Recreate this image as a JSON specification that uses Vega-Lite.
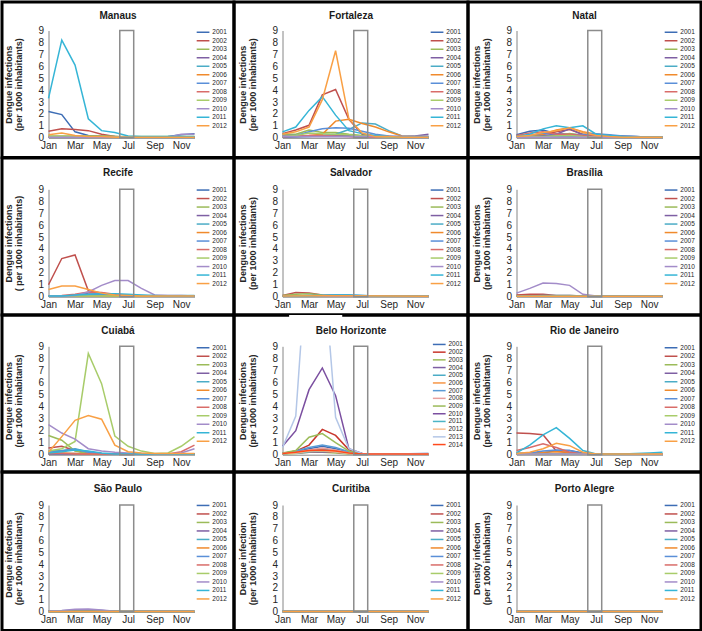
{
"$schema":"https://vega.github.io/schema/vega-lite/v6.json",
"padding":0,
"bounds":"flush",
"spacing":0,
"columns":3,
"datasets":{"d":[
{"c":"MA","s":2001,"m":1,"v":2.2},{"c":"MA","s":2001,"m":2,"v":1.95},{"c":"MA","s":2001,"m":3,"v":0.5},{"c":"MA","s":2001,"m":4,"v":0.2},{"c":"MA","s":2001,"m":5,"v":0.15},{"c":"MA","s":2001,"m":6,"v":0.1},{"c":"MA","s":2001,"m":7,"v":0.05},{"c":"MA","s":2001,"m":8,"v":0.05},{"c":"MA","s":2001,"m":9,"v":0.05},{"c":"MA","s":2001,"m":10,"v":0.1},{"c":"MA","s":2001,"m":11,"v":0.25},{"c":"MA","s":2001,"m":12,"v":0.35},
{"c":"MA","s":2002,"m":1,"v":0.55},{"c":"MA","s":2002,"m":2,"v":0.75},{"c":"MA","s":2002,"m":3,"v":0.7},{"c":"MA","s":2002,"m":4,"v":0.6},{"c":"MA","s":2002,"m":5,"v":0.3},{"c":"MA","s":2002,"m":6,"v":0.1},{"c":"MA","s":2002,"m":7,"v":0.05},{"c":"MA","s":2002,"m":12,"v":0.05},
{"c":"MA","s":2003,"m":1,"v":0.15},{"c":"MA","s":2003,"m":5,"v":0.15},{"c":"MA","s":2003,"m":6,"v":0.1},{"c":"MA","s":2003,"m":7,"v":0.05},{"c":"MA","s":2003,"m":12,"v":0.05},
{"c":"MA","s":2004,"m":1,"v":0.05},{"c":"MA","s":2004,"m":12,"v":0.05},
{"c":"MA","s":2005,"m":1,"v":0.05},{"c":"MA","s":2005,"m":12,"v":0.05},
{"c":"MA","s":2006,"m":1,"v":0.05},{"c":"MA","s":2006,"m":12,"v":0.05},
{"c":"MA","s":2007,"m":1,"v":0.05},{"c":"MA","s":2007,"m":12,"v":0.05},
{"c":"MA","s":2008,"m":1,"v":0.05},{"c":"MA","s":2008,"m":12,"v":0.05},
{"c":"MA","s":2009,"m":1,"v":0.1},{"c":"MA","s":2009,"m":12,"v":0.1},
{"c":"MA","s":2010,"m":1,"v":0.05},{"c":"MA","s":2010,"m":10,"v":0.05},{"c":"MA","s":2010,"m":11,"v":0.3},{"c":"MA","s":2010,"m":12,"v":0.3},
{"c":"MA","s":2011,"m":1,"v":3.3},{"c":"MA","s":2011,"m":2,"v":8.2},{"c":"MA","s":2011,"m":3,"v":6.1},{"c":"MA","s":2011,"m":4,"v":1.6},{"c":"MA","s":2011,"m":5,"v":0.6},{"c":"MA","s":2011,"m":6,"v":0.45},{"c":"MA","s":2011,"m":7,"v":0.15},{"c":"MA","s":2011,"m":8,"v":0.1},{"c":"MA","s":2011,"m":9,"v":0.1},{"c":"MA","s":2011,"m":10,"v":0.1},{"c":"MA","s":2011,"m":11,"v":0.1},{"c":"MA","s":2011,"m":12,"v":0.1},
{"c":"MA","s":2012,"m":1,"v":0.25},{"c":"MA","s":2012,"m":2,"v":0.4},{"c":"MA","s":2012,"m":3,"v":0.2},{"c":"MA","s":2012,"m":4,"v":0.1},{"c":"MA","s":2012,"m":5,"v":0.1},{"c":"MA","s":2012,"m":6,"v":0.05},{"c":"MA","s":2012,"m":12,"v":0.05},

{"c":"FO","s":2001,"m":1,"v":0.1},{"c":"FO","s":2001,"m":2,"v":0.1},{"c":"FO","s":2001,"m":3,"v":0.15},{"c":"FO","s":2001,"m":4,"v":0.2},{"c":"FO","s":2001,"m":5,"v":0.2},{"c":"FO","s":2001,"m":6,"v":0.2},{"c":"FO","s":2001,"m":7,"v":0.15},{"c":"FO","s":2001,"m":8,"v":0.1},{"c":"FO","s":2001,"m":9,"v":0.1},{"c":"FO","s":2001,"m":10,"v":0.05},{"c":"FO","s":2001,"m":12,"v":0.05},
{"c":"FO","s":2002,"m":1,"v":0.35},{"c":"FO","s":2002,"m":2,"v":0.65},{"c":"FO","s":2002,"m":3,"v":1.05},{"c":"FO","s":2002,"m":4,"v":3.6},{"c":"FO","s":2002,"m":5,"v":4.05},{"c":"FO","s":2002,"m":6,"v":1.55},{"c":"FO","s":2002,"m":7,"v":0.3},{"c":"FO","s":2002,"m":8,"v":0.15},{"c":"FO","s":2002,"m":9,"v":0.1},{"c":"FO","s":2002,"m":10,"v":0.05},{"c":"FO","s":2002,"m":11,"v":0.05},{"c":"FO","s":2002,"m":12,"v":0.05},
{"c":"FO","s":2003,"m":1,"v":0.3},{"c":"FO","s":2003,"m":2,"v":0.3},{"c":"FO","s":2003,"m":3,"v":0.65},{"c":"FO","s":2003,"m":4,"v":0.45},{"c":"FO","s":2003,"m":5,"v":0.45},{"c":"FO","s":2003,"m":6,"v":0.3},{"c":"FO","s":2003,"m":7,"v":0.2},{"c":"FO","s":2003,"m":8,"v":0.1},{"c":"FO","s":2003,"m":9,"v":0.05},{"c":"FO","s":2003,"m":12,"v":0.05},
{"c":"FO","s":2004,"m":1,"v":0.05},{"c":"FO","s":2004,"m":3,"v":0.1},{"c":"FO","s":2004,"m":6,"v":0.1},{"c":"FO","s":2004,"m":7,"v":0.05},{"c":"FO","s":2004,"m":10,"v":0.05},{"c":"FO","s":2004,"m":11,"v":0.15},{"c":"FO","s":2004,"m":12,"v":0.3},
{"c":"FO","s":2005,"m":1,"v":0.1},{"c":"FO","s":2005,"m":2,"v":0.1},{"c":"FO","s":2005,"m":3,"v":0.1},{"c":"FO","s":2005,"m":4,"v":0.2},{"c":"FO","s":2005,"m":5,"v":0.3},{"c":"FO","s":2005,"m":6,"v":0.7},{"c":"FO","s":2005,"m":7,"v":1.25},{"c":"FO","s":2005,"m":8,"v":1.15},{"c":"FO","s":2005,"m":9,"v":0.6},{"c":"FO","s":2005,"m":10,"v":0.15},{"c":"FO","s":2005,"m":11,"v":0.1},{"c":"FO","s":2005,"m":12,"v":0.1},
{"c":"FO","s":2006,"m":1,"v":0.1},{"c":"FO","s":2006,"m":2,"v":0.15},{"c":"FO","s":2006,"m":3,"v":0.2},{"c":"FO","s":2006,"m":4,"v":0.3},{"c":"FO","s":2006,"m":5,"v":1.4},{"c":"FO","s":2006,"m":6,"v":1.55},{"c":"FO","s":2006,"m":7,"v":1.2},{"c":"FO","s":2006,"m":8,"v":0.9},{"c":"FO","s":2006,"m":9,"v":0.5},{"c":"FO","s":2006,"m":10,"v":0.15},{"c":"FO","s":2006,"m":11,"v":0.1},{"c":"FO","s":2006,"m":12,"v":0.1},
{"c":"FO","s":2007,"m":1,"v":0.2},{"c":"FO","s":2007,"m":2,"v":0.2},{"c":"FO","s":2007,"m":3,"v":0.5},{"c":"FO","s":2007,"m":4,"v":0.75},{"c":"FO","s":2007,"m":5,"v":0.85},{"c":"FO","s":2007,"m":6,"v":0.8},{"c":"FO","s":2007,"m":7,"v":0.55},{"c":"FO","s":2007,"m":8,"v":0.3},{"c":"FO","s":2007,"m":9,"v":0.15},{"c":"FO","s":2007,"m":10,"v":0.1},{"c":"FO","s":2007,"m":12,"v":0.1},
{"c":"FO","s":2008,"m":1,"v":0.1},{"c":"FO","s":2008,"m":2,"v":0.15},{"c":"FO","s":2008,"m":3,"v":0.2},{"c":"FO","s":2008,"m":4,"v":0.2},{"c":"FO","s":2008,"m":5,"v":0.15},{"c":"FO","s":2008,"m":6,"v":0.1},{"c":"FO","s":2008,"m":7,"v":0.05},{"c":"FO","s":2008,"m":12,"v":0.05},
{"c":"FO","s":2009,"m":1,"v":0.1},{"c":"FO","s":2009,"m":2,"v":0.2},{"c":"FO","s":2009,"m":3,"v":0.4},{"c":"FO","s":2009,"m":4,"v":0.35},{"c":"FO","s":2009,"m":5,"v":0.3},{"c":"FO","s":2009,"m":6,"v":0.25},{"c":"FO","s":2009,"m":7,"v":0.15},{"c":"FO","s":2009,"m":8,"v":0.1},{"c":"FO","s":2009,"m":9,"v":0.05},{"c":"FO","s":2009,"m":12,"v":0.05},
{"c":"FO","s":2010,"m":1,"v":0.1},{"c":"FO","s":2010,"m":12,"v":0.1},
{"c":"FO","s":2011,"m":1,"v":0.5},{"c":"FO","s":2011,"m":2,"v":0.9},{"c":"FO","s":2011,"m":3,"v":2.3},{"c":"FO","s":2011,"m":4,"v":3.45},{"c":"FO","s":2011,"m":5,"v":1.9},{"c":"FO","s":2011,"m":6,"v":0.6},{"c":"FO","s":2011,"m":7,"v":0.35},{"c":"FO","s":2011,"m":8,"v":0.2},{"c":"FO","s":2011,"m":9,"v":0.1},{"c":"FO","s":2011,"m":10,"v":0.05},{"c":"FO","s":2011,"m":12,"v":0.05},
{"c":"FO","s":2012,"m":1,"v":0.3},{"c":"FO","s":2012,"m":2,"v":0.5},{"c":"FO","s":2012,"m":3,"v":0.9},{"c":"FO","s":2012,"m":4,"v":3.2},{"c":"FO","s":2012,"m":5,"v":7.3},{"c":"FO","s":2012,"m":6,"v":1.6},{"c":"FO","s":2012,"m":7,"v":0.4},{"c":"FO","s":2012,"m":8,"v":0.1},{"c":"FO","s":2012,"m":9,"v":0.1},{"c":"FO","s":2012,"m":10,"v":0.05},{"c":"FO","s":2012,"m":11,"v":0.05},{"c":"FO","s":2012,"m":12,"v":0.05},

{"c":"NA","s":2001,"m":1,"v":0.25},{"c":"NA","s":2001,"m":2,"v":0.55},{"c":"NA","s":2001,"m":3,"v":0.65},{"c":"NA","s":2001,"m":4,"v":0.35},{"c":"NA","s":2001,"m":5,"v":0.3},{"c":"NA","s":2001,"m":6,"v":0.25},{"c":"NA","s":2001,"m":7,"v":0.3},{"c":"NA","s":2001,"m":8,"v":0.2},{"c":"NA","s":2001,"m":9,"v":0.15},{"c":"NA","s":2001,"m":10,"v":0.1},{"c":"NA","s":2001,"m":11,"v":0.05},{"c":"NA","s":2001,"m":12,"v":0.05},
{"c":"NA","s":2002,"m":1,"v":0.1},{"c":"NA","s":2002,"m":2,"v":0.2},{"c":"NA","s":2002,"m":3,"v":0.3},{"c":"NA","s":2002,"m":4,"v":0.5},{"c":"NA","s":2002,"m":5,"v":0.7},{"c":"NA","s":2002,"m":6,"v":0.3},{"c":"NA","s":2002,"m":7,"v":0.1},{"c":"NA","s":2002,"m":8,"v":0.05},{"c":"NA","s":2002,"m":12,"v":0.05},
{"c":"NA","s":2003,"m":1,"v":0.1},{"c":"NA","s":2003,"m":2,"v":0.1},{"c":"NA","s":2003,"m":3,"v":0.15},{"c":"NA","s":2003,"m":4,"v":0.2},{"c":"NA","s":2003,"m":5,"v":0.35},{"c":"NA","s":2003,"m":6,"v":0.2},{"c":"NA","s":2003,"m":7,"v":0.1},{"c":"NA","s":2003,"m":8,"v":0.05},{"c":"NA","s":2003,"m":12,"v":0.05},
{"c":"NA","s":2004,"m":1,"v":0.1},{"c":"NA","s":2004,"m":2,"v":0.15},{"c":"NA","s":2004,"m":3,"v":0.2},{"c":"NA","s":2004,"m":4,"v":0.3},{"c":"NA","s":2004,"m":5,"v":0.75},{"c":"NA","s":2004,"m":6,"v":0.25},{"c":"NA","s":2004,"m":7,"v":0.1},{"c":"NA","s":2004,"m":8,"v":0.05},{"c":"NA","s":2004,"m":12,"v":0.05},
{"c":"NA","s":2005,"m":1,"v":0.1},{"c":"NA","s":2005,"m":12,"v":0.05},
{"c":"NA","s":2006,"m":1,"v":0.15},{"c":"NA","s":2006,"m":2,"v":0.2},{"c":"NA","s":2006,"m":3,"v":0.3},{"c":"NA","s":2006,"m":4,"v":0.65},{"c":"NA","s":2006,"m":5,"v":0.85},{"c":"NA","s":2006,"m":6,"v":0.5},{"c":"NA","s":2006,"m":7,"v":0.3},{"c":"NA","s":2006,"m":8,"v":0.2},{"c":"NA","s":2006,"m":9,"v":0.1},{"c":"NA","s":2006,"m":10,"v":0.05},{"c":"NA","s":2006,"m":12,"v":0.05},
{"c":"NA","s":2007,"m":1,"v":0.1},{"c":"NA","s":2007,"m":2,"v":0.2},{"c":"NA","s":2007,"m":3,"v":0.4},{"c":"NA","s":2007,"m":4,"v":0.3},{"c":"NA","s":2007,"m":5,"v":0.2},{"c":"NA","s":2007,"m":6,"v":0.3},{"c":"NA","s":2007,"m":7,"v":0.35},{"c":"NA","s":2007,"m":8,"v":0.25},{"c":"NA","s":2007,"m":9,"v":0.15},{"c":"NA","s":2007,"m":10,"v":0.1},{"c":"NA","s":2007,"m":11,"v":0.05},{"c":"NA","s":2007,"m":12,"v":0.05},
{"c":"NA","s":2008,"m":1,"v":0.2},{"c":"NA","s":2008,"m":2,"v":0.4},{"c":"NA","s":2008,"m":3,"v":0.5},{"c":"NA","s":2008,"m":4,"v":0.3},{"c":"NA","s":2008,"m":5,"v":0.3},{"c":"NA","s":2008,"m":6,"v":0.2},{"c":"NA","s":2008,"m":7,"v":0.1},{"c":"NA","s":2008,"m":8,"v":0.05},{"c":"NA","s":2008,"m":12,"v":0.05},
{"c":"NA","s":2009,"m":1,"v":0.05},{"c":"NA","s":2009,"m":2,"v":0.1},{"c":"NA","s":2009,"m":3,"v":0.1},{"c":"NA","s":2009,"m":4,"v":0.15},{"c":"NA","s":2009,"m":5,"v":0.2},{"c":"NA","s":2009,"m":6,"v":0.1},{"c":"NA","s":2009,"m":7,"v":0.05},{"c":"NA","s":2009,"m":12,"v":0.05},
{"c":"NA","s":2010,"m":1,"v":0.05},{"c":"NA","s":2010,"m":12,"v":0.05},
{"c":"NA","s":2011,"m":1,"v":0.1},{"c":"NA","s":2011,"m":2,"v":0.3},{"c":"NA","s":2011,"m":3,"v":0.75},{"c":"NA","s":2011,"m":4,"v":1.0},{"c":"NA","s":2011,"m":5,"v":0.85},{"c":"NA","s":2011,"m":6,"v":1.0},{"c":"NA","s":2011,"m":7,"v":0.3},{"c":"NA","s":2011,"m":8,"v":0.2},{"c":"NA","s":2011,"m":9,"v":0.1},{"c":"NA","s":2011,"m":10,"v":0.05},{"c":"NA","s":2011,"m":12,"v":0.05},
{"c":"NA","s":2012,"m":1,"v":0.1},{"c":"NA","s":2012,"m":2,"v":0.2},{"c":"NA","s":2012,"m":3,"v":0.45},{"c":"NA","s":2012,"m":4,"v":0.6},{"c":"NA","s":2012,"m":5,"v":0.85},{"c":"NA","s":2012,"m":6,"v":0.45},{"c":"NA","s":2012,"m":7,"v":0.2},{"c":"NA","s":2012,"m":8,"v":0.1},{"c":"NA","s":2012,"m":9,"v":0.05},{"c":"NA","s":2012,"m":12,"v":0.05},

{"c":"RE","s":2001,"m":1,"v":0.05},{"c":"RE","s":2001,"m":12,"v":0.05},
{"c":"RE","s":2002,"m":1,"v":1.0},{"c":"RE","s":2002,"m":2,"v":3.2},{"c":"RE","s":2002,"m":3,"v":3.5},{"c":"RE","s":2002,"m":4,"v":0.5},{"c":"RE","s":2002,"m":5,"v":0.3},{"c":"RE","s":2002,"m":6,"v":0.15},{"c":"RE","s":2002,"m":7,"v":0.1},{"c":"RE","s":2002,"m":8,"v":0.05},{"c":"RE","s":2002,"m":12,"v":0.05},
{"c":"RE","s":2003,"m":1,"v":0.05},{"c":"RE","s":2003,"m":2,"v":0.05},{"c":"RE","s":2003,"m":3,"v":0.1},{"c":"RE","s":2003,"m":6,"v":0.1},{"c":"RE","s":2003,"m":7,"v":0.05},{"c":"RE","s":2003,"m":12,"v":0.05},
{"c":"RE","s":2004,"m":1,"v":0.05},{"c":"RE","s":2004,"m":2,"v":0.05},{"c":"RE","s":2004,"m":3,"v":0.1},{"c":"RE","s":2004,"m":4,"v":0.3},{"c":"RE","s":2004,"m":5,"v":0.3},{"c":"RE","s":2004,"m":6,"v":0.15},{"c":"RE","s":2004,"m":7,"v":0.1},{"c":"RE","s":2004,"m":8,"v":0.05},{"c":"RE","s":2004,"m":12,"v":0.05},
{"c":"RE","s":2005,"m":1,"v":0.05},{"c":"RE","s":2005,"m":12,"v":0.1},
{"c":"RE","s":2006,"m":1,"v":0.05},{"c":"RE","s":2006,"m":12,"v":0.05},
{"c":"RE","s":2007,"m":1,"v":0.05},{"c":"RE","s":2007,"m":2,"v":0.05},{"c":"RE","s":2007,"m":3,"v":0.1},{"c":"RE","s":2007,"m":4,"v":0.15},{"c":"RE","s":2007,"m":5,"v":0.2},{"c":"RE","s":2007,"m":6,"v":0.2},{"c":"RE","s":2007,"m":7,"v":0.15},{"c":"RE","s":2007,"m":8,"v":0.1},{"c":"RE","s":2007,"m":9,"v":0.05},{"c":"RE","s":2007,"m":12,"v":0.05},
{"c":"RE","s":2008,"m":1,"v":0.05},{"c":"RE","s":2008,"m":2,"v":0.1},{"c":"RE","s":2008,"m":3,"v":0.2},{"c":"RE","s":2008,"m":4,"v":0.4},{"c":"RE","s":2008,"m":5,"v":0.35},{"c":"RE","s":2008,"m":6,"v":0.2},{"c":"RE","s":2008,"m":7,"v":0.1},{"c":"RE","s":2008,"m":8,"v":0.05},{"c":"RE","s":2008,"m":12,"v":0.05},
{"c":"RE","s":2009,"m":1,"v":0.05},{"c":"RE","s":2009,"m":12,"v":0.05},
{"c":"RE","s":2010,"m":1,"v":0.05},{"c":"RE","s":2010,"m":2,"v":0.05},{"c":"RE","s":2010,"m":3,"v":0.1},{"c":"RE","s":2010,"m":4,"v":0.4},{"c":"RE","s":2010,"m":5,"v":0.95},{"c":"RE","s":2010,"m":6,"v":1.35},{"c":"RE","s":2010,"m":7,"v":1.35},{"c":"RE","s":2010,"m":8,"v":0.7},{"c":"RE","s":2010,"m":9,"v":0.15},{"c":"RE","s":2010,"m":10,"v":0.1},{"c":"RE","s":2010,"m":11,"v":0.1},{"c":"RE","s":2010,"m":12,"v":0.05},
{"c":"RE","s":2011,"m":1,"v":0.05},{"c":"RE","s":2011,"m":2,"v":0.05},{"c":"RE","s":2011,"m":3,"v":0.15},{"c":"RE","s":2011,"m":4,"v":0.2},{"c":"RE","s":2011,"m":5,"v":0.25},{"c":"RE","s":2011,"m":6,"v":0.25},{"c":"RE","s":2011,"m":7,"v":0.2},{"c":"RE","s":2011,"m":8,"v":0.15},{"c":"RE","s":2011,"m":9,"v":0.1},{"c":"RE","s":2011,"m":10,"v":0.05},{"c":"RE","s":2011,"m":12,"v":0.05},
{"c":"RE","s":2012,"m":1,"v":0.6},{"c":"RE","s":2012,"m":2,"v":0.9},{"c":"RE","s":2012,"m":3,"v":0.9},{"c":"RE","s":2012,"m":4,"v":0.6},{"c":"RE","s":2012,"m":5,"v":0.3},{"c":"RE","s":2012,"m":6,"v":0.15},{"c":"RE","s":2012,"m":7,"v":0.1},{"c":"RE","s":2012,"m":8,"v":0.05},{"c":"RE","s":2012,"m":12,"v":0.05},

{"c":"SA","s":2001,"m":1,"v":0.05},{"c":"SA","s":2001,"m":12,"v":0.03},
{"c":"SA","s":2002,"m":1,"v":0.1},{"c":"SA","s":2002,"m":2,"v":0.35},{"c":"SA","s":2002,"m":3,"v":0.3},{"c":"SA","s":2002,"m":4,"v":0.15},{"c":"SA","s":2002,"m":5,"v":0.1},{"c":"SA","s":2002,"m":6,"v":0.1},{"c":"SA","s":2002,"m":7,"v":0.05},{"c":"SA","s":2002,"m":12,"v":0.03},
{"c":"SA","s":2003,"m":1,"v":0.1},{"c":"SA","s":2003,"m":2,"v":0.2},{"c":"SA","s":2003,"m":3,"v":0.25},{"c":"SA","s":2003,"m":4,"v":0.15},{"c":"SA","s":2003,"m":5,"v":0.1},{"c":"SA","s":2003,"m":6,"v":0.05},{"c":"SA","s":2003,"m":12,"v":0.03},
{"c":"SA","s":2004,"m":1,"v":0.05},{"c":"SA","s":2004,"m":12,"v":0.03},
{"c":"SA","s":2005,"m":1,"v":0.05},{"c":"SA","s":2005,"m":12,"v":0.03},
{"c":"SA","s":2006,"m":1,"v":0.05},{"c":"SA","s":2006,"m":12,"v":0.03},
{"c":"SA","s":2007,"m":1,"v":0.05},{"c":"SA","s":2007,"m":2,"v":0.05},{"c":"SA","s":2007,"m":3,"v":0.1},{"c":"SA","s":2007,"m":4,"v":0.1},{"c":"SA","s":2007,"m":5,"v":0.15},{"c":"SA","s":2007,"m":6,"v":0.15},{"c":"SA","s":2007,"m":7,"v":0.1},{"c":"SA","s":2007,"m":8,"v":0.05},{"c":"SA","s":2007,"m":12,"v":0.03},
{"c":"SA","s":2008,"m":1,"v":0.05},{"c":"SA","s":2008,"m":12,"v":0.03},
{"c":"SA","s":2009,"m":1,"v":0.05},{"c":"SA","s":2009,"m":12,"v":0.03},
{"c":"SA","s":2010,"m":1,"v":0.05},{"c":"SA","s":2010,"m":12,"v":0.03},
{"c":"SA","s":2011,"m":1,"v":0.05},{"c":"SA","s":2011,"m":3,"v":0.05},{"c":"SA","s":2011,"m":4,"v":0.1},{"c":"SA","s":2011,"m":5,"v":0.15},{"c":"SA","s":2011,"m":6,"v":0.15},{"c":"SA","s":2011,"m":7,"v":0.1},{"c":"SA","s":2011,"m":8,"v":0.05},{"c":"SA","s":2011,"m":12,"v":0.03},
{"c":"SA","s":2012,"m":1,"v":0.05},{"c":"SA","s":2012,"m":4,"v":0.08},{"c":"SA","s":2012,"m":6,"v":0.08},{"c":"SA","s":2012,"m":12,"v":0.03},

{"c":"BR","s":2001,"m":1,"v":0.03},{"c":"BR","s":2001,"m":12,"v":0.03},
{"c":"BR","s":2002,"m":1,"v":0.15},{"c":"BR","s":2002,"m":2,"v":0.2},{"c":"BR","s":2002,"m":3,"v":0.2},{"c":"BR","s":2002,"m":4,"v":0.1},{"c":"BR","s":2002,"m":5,"v":0.1},{"c":"BR","s":2002,"m":6,"v":0.05},{"c":"BR","s":2002,"m":12,"v":0.03},
{"c":"BR","s":2003,"m":1,"v":0.03},{"c":"BR","s":2003,"m":12,"v":0.03},
{"c":"BR","s":2004,"m":1,"v":0.03},{"c":"BR","s":2004,"m":12,"v":0.03},
{"c":"BR","s":2005,"m":1,"v":0.05},{"c":"BR","s":2005,"m":2,"v":0.05},{"c":"BR","s":2005,"m":3,"v":0.1},{"c":"BR","s":2005,"m":4,"v":0.1},{"c":"BR","s":2005,"m":5,"v":0.1},{"c":"BR","s":2005,"m":6,"v":0.05},{"c":"BR","s":2005,"m":12,"v":0.03},
{"c":"BR","s":2006,"m":1,"v":0.03},{"c":"BR","s":2006,"m":12,"v":0.03},
{"c":"BR","s":2007,"m":1,"v":0.03},{"c":"BR","s":2007,"m":12,"v":0.03},
{"c":"BR","s":2008,"m":1,"v":0.03},{"c":"BR","s":2008,"m":12,"v":0.03},
{"c":"BR","s":2009,"m":1,"v":0.03},{"c":"BR","s":2009,"m":12,"v":0.03},
{"c":"BR","s":2010,"m":1,"v":0.3},{"c":"BR","s":2010,"m":2,"v":0.7},{"c":"BR","s":2010,"m":3,"v":1.15},{"c":"BR","s":2010,"m":4,"v":1.1},{"c":"BR","s":2010,"m":5,"v":0.95},{"c":"BR","s":2010,"m":6,"v":0.2},{"c":"BR","s":2010,"m":7,"v":0.05},{"c":"BR","s":2010,"m":12,"v":0.03},
{"c":"BR","s":2011,"m":1,"v":0.03},{"c":"BR","s":2011,"m":12,"v":0.03},
{"c":"BR","s":2012,"m":1,"v":0.03},{"c":"BR","s":2012,"m":12,"v":0.03},

{"c":"CU","s":2001,"m":1,"v":0.05},{"c":"CU","s":2001,"m":12,"v":0.05},
{"c":"CU","s":2002,"m":1,"v":0.55},{"c":"CU","s":2002,"m":2,"v":0.7},{"c":"CU","s":2002,"m":3,"v":0.35},{"c":"CU","s":2002,"m":4,"v":0.1},{"c":"CU","s":2002,"m":5,"v":0.05},{"c":"CU","s":2002,"m":12,"v":0.05},
{"c":"CU","s":2003,"m":1,"v":1.6},{"c":"CU","s":2003,"m":2,"v":1.2},{"c":"CU","s":2003,"m":3,"v":0.3},{"c":"CU","s":2003,"m":4,"v":0.1},{"c":"CU","s":2003,"m":5,"v":0.05},{"c":"CU","s":2003,"m":12,"v":0.05},
{"c":"CU","s":2004,"m":1,"v":0.1},{"c":"CU","s":2004,"m":3,"v":0.1},{"c":"CU","s":2004,"m":4,"v":0.05},{"c":"CU","s":2004,"m":12,"v":0.05},
{"c":"CU","s":2005,"m":1,"v":0.3},{"c":"CU","s":2005,"m":2,"v":0.35},{"c":"CU","s":2005,"m":3,"v":0.5},{"c":"CU","s":2005,"m":4,"v":0.25},{"c":"CU","s":2005,"m":5,"v":0.1},{"c":"CU","s":2005,"m":6,"v":0.05},{"c":"CU","s":2005,"m":12,"v":0.05},
{"c":"CU","s":2006,"m":1,"v":0.1},{"c":"CU","s":2006,"m":2,"v":0.15},{"c":"CU","s":2006,"m":3,"v":0.1},{"c":"CU","s":2006,"m":4,"v":0.05},{"c":"CU","s":2006,"m":12,"v":0.05},
{"c":"CU","s":2007,"m":1,"v":0.2},{"c":"CU","s":2007,"m":2,"v":0.3},{"c":"CU","s":2007,"m":3,"v":0.45},{"c":"CU","s":2007,"m":4,"v":0.2},{"c":"CU","s":2007,"m":5,"v":0.1},{"c":"CU","s":2007,"m":6,"v":0.05},{"c":"CU","s":2007,"m":12,"v":0.05},
{"c":"CU","s":2008,"m":1,"v":0.1},{"c":"CU","s":2008,"m":2,"v":0.1},{"c":"CU","s":2008,"m":3,"v":0.05},{"c":"CU","s":2008,"m":10,"v":0.05},{"c":"CU","s":2008,"m":11,"v":0.25},{"c":"CU","s":2008,"m":12,"v":0.8},
{"c":"CU","s":2009,"m":1,"v":0.3},{"c":"CU","s":2009,"m":2,"v":0.5},{"c":"CU","s":2009,"m":3,"v":1.1},{"c":"CU","s":2009,"m":4,"v":8.4},{"c":"CU","s":2009,"m":5,"v":5.9},{"c":"CU","s":2009,"m":6,"v":1.55},{"c":"CU","s":2009,"m":7,"v":0.7},{"c":"CU","s":2009,"m":8,"v":0.3},{"c":"CU","s":2009,"m":9,"v":0.1},{"c":"CU","s":2009,"m":10,"v":0.15},{"c":"CU","s":2009,"m":11,"v":0.7},{"c":"CU","s":2009,"m":12,"v":1.5},
{"c":"CU","s":2010,"m":1,"v":2.5},{"c":"CU","s":2010,"m":2,"v":1.8},{"c":"CU","s":2010,"m":3,"v":1.3},{"c":"CU","s":2010,"m":4,"v":0.5},{"c":"CU","s":2010,"m":5,"v":0.3},{"c":"CU","s":2010,"m":6,"v":0.2},{"c":"CU","s":2010,"m":7,"v":0.15},{"c":"CU","s":2010,"m":8,"v":0.1},{"c":"CU","s":2010,"m":9,"v":0.05},{"c":"CU","s":2010,"m":10,"v":0.05},{"c":"CU","s":2010,"m":11,"v":0.15},{"c":"CU","s":2010,"m":12,"v":0.5},
{"c":"CU","s":2011,"m":1,"v":0.15},{"c":"CU","s":2011,"m":2,"v":0.25},{"c":"CU","s":2011,"m":3,"v":0.4},{"c":"CU","s":2011,"m":4,"v":0.3},{"c":"CU","s":2011,"m":5,"v":0.15},{"c":"CU","s":2011,"m":6,"v":0.05},{"c":"CU","s":2011,"m":12,"v":0.05},
{"c":"CU","s":2012,"m":1,"v":0.2},{"c":"CU","s":2012,"m":2,"v":1.5},{"c":"CU","s":2012,"m":3,"v":2.85},{"c":"CU","s":2012,"m":4,"v":3.25},{"c":"CU","s":2012,"m":5,"v":2.95},{"c":"CU","s":2012,"m":6,"v":0.8},{"c":"CU","s":2012,"m":7,"v":0.25},{"c":"CU","s":2012,"m":8,"v":0.15},{"c":"CU","s":2012,"m":9,"v":0.1},{"c":"CU","s":2012,"m":10,"v":0.1},{"c":"CU","s":2012,"m":11,"v":0.1},{"c":"CU","s":2012,"m":12,"v":0.1},

{"c":"BH","s":2001,"m":1,"v":0.1},{"c":"BH","s":2001,"m":2,"v":0.25},{"c":"BH","s":2001,"m":3,"v":0.5},{"c":"BH","s":2001,"m":4,"v":0.7},{"c":"BH","s":2001,"m":5,"v":0.5},{"c":"BH","s":2001,"m":6,"v":0.2},{"c":"BH","s":2001,"m":7,"v":0.05},{"c":"BH","s":2001,"m":12,"v":0.05},
{"c":"BH","s":2002,"m":1,"v":0.1},{"c":"BH","s":2002,"m":2,"v":0.3},{"c":"BH","s":2002,"m":3,"v":0.8},{"c":"BH","s":2002,"m":4,"v":2.1},{"c":"BH","s":2002,"m":5,"v":1.6},{"c":"BH","s":2002,"m":6,"v":0.4},{"c":"BH","s":2002,"m":7,"v":0.1},{"c":"BH","s":2002,"m":8,"v":0.05},{"c":"BH","s":2002,"m":12,"v":0.05},
{"c":"BH","s":2003,"m":1,"v":0.05},{"c":"BH","s":2003,"m":2,"v":0.1},{"c":"BH","s":2003,"m":3,"v":0.2},{"c":"BH","s":2003,"m":4,"v":0.2},{"c":"BH","s":2003,"m":5,"v":0.15},{"c":"BH","s":2003,"m":6,"v":0.05},{"c":"BH","s":2003,"m":12,"v":0.05},
{"c":"BH","s":2004,"m":1,"v":0.1},{"c":"BH","s":2004,"m":2,"v":0.15},{"c":"BH","s":2004,"m":3,"v":0.2},{"c":"BH","s":2004,"m":4,"v":0.25},{"c":"BH","s":2004,"m":5,"v":0.2},{"c":"BH","s":2004,"m":6,"v":0.1},{"c":"BH","s":2004,"m":7,"v":0.05},{"c":"BH","s":2004,"m":12,"v":0.05},
{"c":"BH","s":2005,"m":1,"v":0.1},{"c":"BH","s":2005,"m":2,"v":0.15},{"c":"BH","s":2005,"m":3,"v":0.3},{"c":"BH","s":2005,"m":4,"v":0.45},{"c":"BH","s":2005,"m":5,"v":0.35},{"c":"BH","s":2005,"m":6,"v":0.15},{"c":"BH","s":2005,"m":7,"v":0.05},{"c":"BH","s":2005,"m":12,"v":0.05},
{"c":"BH","s":2006,"m":1,"v":0.1},{"c":"BH","s":2006,"m":2,"v":0.15},{"c":"BH","s":2006,"m":3,"v":0.25},{"c":"BH","s":2006,"m":4,"v":0.3},{"c":"BH","s":2006,"m":5,"v":0.2},{"c":"BH","s":2006,"m":6,"v":0.1},{"c":"BH","s":2006,"m":7,"v":0.05},{"c":"BH","s":2006,"m":12,"v":0.05},
{"c":"BH","s":2007,"m":1,"v":0.1},{"c":"BH","s":2007,"m":2,"v":0.3},{"c":"BH","s":2007,"m":3,"v":0.6},{"c":"BH","s":2007,"m":4,"v":0.8},{"c":"BH","s":2007,"m":5,"v":0.6},{"c":"BH","s":2007,"m":6,"v":0.25},{"c":"BH","s":2007,"m":7,"v":0.05},{"c":"BH","s":2007,"m":12,"v":0.05},
{"c":"BH","s":2008,"m":1,"v":0.1},{"c":"BH","s":2008,"m":2,"v":0.2},{"c":"BH","s":2008,"m":3,"v":0.4},{"c":"BH","s":2008,"m":4,"v":0.55},{"c":"BH","s":2008,"m":5,"v":0.4},{"c":"BH","s":2008,"m":6,"v":0.15},{"c":"BH","s":2008,"m":7,"v":0.05},{"c":"BH","s":2008,"m":12,"v":0.05},
{"c":"BH","s":2009,"m":1,"v":0.15},{"c":"BH","s":2009,"m":2,"v":0.35},{"c":"BH","s":2009,"m":3,"v":1.45},{"c":"BH","s":2009,"m":4,"v":1.75},{"c":"BH","s":2009,"m":5,"v":1.0},{"c":"BH","s":2009,"m":6,"v":0.3},{"c":"BH","s":2009,"m":7,"v":0.1},{"c":"BH","s":2009,"m":8,"v":0.05},{"c":"BH","s":2009,"m":12,"v":0.05},
{"c":"BH","s":2010,"m":1,"v":0.7},{"c":"BH","s":2010,"m":2,"v":2.0},{"c":"BH","s":2010,"m":3,"v":5.4},{"c":"BH","s":2010,"m":4,"v":7.2},{"c":"BH","s":2010,"m":5,"v":4.9},{"c":"BH","s":2010,"m":6,"v":0.5},{"c":"BH","s":2010,"m":7,"v":0.1},{"c":"BH","s":2010,"m":8,"v":0.05},{"c":"BH","s":2010,"m":12,"v":0.05},
{"c":"BH","s":2011,"m":1,"v":0.1},{"c":"BH","s":2011,"m":2,"v":0.15},{"c":"BH","s":2011,"m":3,"v":0.25},{"c":"BH","s":2011,"m":4,"v":0.35},{"c":"BH","s":2011,"m":5,"v":0.25},{"c":"BH","s":2011,"m":6,"v":0.1},{"c":"BH","s":2011,"m":7,"v":0.05},{"c":"BH","s":2011,"m":12,"v":0.05},
{"c":"BH","s":2012,"m":1,"v":0.1},{"c":"BH","s":2012,"m":2,"v":0.15},{"c":"BH","s":2012,"m":3,"v":0.3},{"c":"BH","s":2012,"m":4,"v":0.35},{"c":"BH","s":2012,"m":5,"v":0.25},{"c":"BH","s":2012,"m":6,"v":0.1},{"c":"BH","s":2012,"m":7,"v":0.05},{"c":"BH","s":2012,"m":12,"v":0.05},
{"c":"BH","s":2013,"m":1,"v":0.6},{"c":"BH","s":2013,"m":2,"v":3.2},{"c":"BH","s":2013,"m":3,"v":19},{"c":"BH","s":2013,"m":4,"v":17},{"c":"BH","s":2013,"m":5,"v":3.1},{"c":"BH","s":2013,"m":6,"v":0.5},{"c":"BH","s":2013,"m":7,"v":0.1},{"c":"BH","s":2013,"m":8,"v":0.05},{"c":"BH","s":2013,"m":9,"v":0.05},{"c":"BH","s":2013,"m":10,"v":0.05},{"c":"BH","s":2013,"m":11,"v":0.1},{"c":"BH","s":2013,"m":12,"v":0.15},
{"c":"BH","s":2014,"m":1,"v":0.1},{"c":"BH","s":2014,"m":2,"v":0.2},{"c":"BH","s":2014,"m":3,"v":0.35},{"c":"BH","s":2014,"m":4,"v":0.4},{"c":"BH","s":2014,"m":5,"v":0.3},{"c":"BH","s":2014,"m":6,"v":0.15},{"c":"BH","s":2014,"m":7,"v":0.05},{"c":"BH","s":2014,"m":12,"v":0.05},

{"c":"RI","s":2001,"m":1,"v":0.1},{"c":"RI","s":2001,"m":2,"v":0.1},{"c":"RI","s":2001,"m":3,"v":0.15},{"c":"RI","s":2001,"m":4,"v":0.35},{"c":"RI","s":2001,"m":5,"v":0.35},{"c":"RI","s":2001,"m":6,"v":0.15},{"c":"RI","s":2001,"m":7,"v":0.05},{"c":"RI","s":2001,"m":12,"v":0.05},
{"c":"RI","s":2002,"m":1,"v":1.8},{"c":"RI","s":2002,"m":2,"v":1.75},{"c":"RI","s":2002,"m":3,"v":1.65},{"c":"RI","s":2002,"m":4,"v":0.3},{"c":"RI","s":2002,"m":5,"v":0.15},{"c":"RI","s":2002,"m":6,"v":0.05},{"c":"RI","s":2002,"m":12,"v":0.05},
{"c":"RI","s":2003,"m":1,"v":0.05},{"c":"RI","s":2003,"m":12,"v":0.05},
{"c":"RI","s":2004,"m":1,"v":0.05},{"c":"RI","s":2004,"m":12,"v":0.05},
{"c":"RI","s":2005,"m":1,"v":0.05},{"c":"RI","s":2005,"m":12,"v":0.05},
{"c":"RI","s":2006,"m":1,"v":0.1},{"c":"RI","s":2006,"m":2,"v":0.1},{"c":"RI","s":2006,"m":3,"v":0.2},{"c":"RI","s":2006,"m":4,"v":0.25},{"c":"RI","s":2006,"m":5,"v":0.2},{"c":"RI","s":2006,"m":6,"v":0.1},{"c":"RI","s":2006,"m":7,"v":0.05},{"c":"RI","s":2006,"m":12,"v":0.05},
{"c":"RI","s":2007,"m":1,"v":0.1},{"c":"RI","s":2007,"m":2,"v":0.15},{"c":"RI","s":2007,"m":3,"v":0.3},{"c":"RI","s":2007,"m":4,"v":0.4},{"c":"RI","s":2007,"m":5,"v":0.35},{"c":"RI","s":2007,"m":6,"v":0.1},{"c":"RI","s":2007,"m":7,"v":0.05},{"c":"RI","s":2007,"m":12,"v":0.05},
{"c":"RI","s":2008,"m":1,"v":0.35},{"c":"RI","s":2008,"m":2,"v":0.6},{"c":"RI","s":2008,"m":3,"v":0.9},{"c":"RI","s":2008,"m":4,"v":0.6},{"c":"RI","s":2008,"m":5,"v":0.2},{"c":"RI","s":2008,"m":6,"v":0.05},{"c":"RI","s":2008,"m":12,"v":0.05},
{"c":"RI","s":2009,"m":1,"v":0.05},{"c":"RI","s":2009,"m":12,"v":0.05},
{"c":"RI","s":2010,"m":1,"v":0.05},{"c":"RI","s":2010,"m":12,"v":0.05},
{"c":"RI","s":2011,"m":1,"v":0.15},{"c":"RI","s":2011,"m":2,"v":0.8},{"c":"RI","s":2011,"m":3,"v":1.65},{"c":"RI","s":2011,"m":4,"v":2.25},{"c":"RI","s":2011,"m":5,"v":1.35},{"c":"RI","s":2011,"m":6,"v":0.35},{"c":"RI","s":2011,"m":7,"v":0.05},{"c":"RI","s":2011,"m":8,"v":0.05},{"c":"RI","s":2011,"m":9,"v":0.05},{"c":"RI","s":2011,"m":10,"v":0.1},{"c":"RI","s":2011,"m":11,"v":0.15},{"c":"RI","s":2011,"m":12,"v":0.2},
{"c":"RI","s":2012,"m":1,"v":0.1},{"c":"RI","s":2012,"m":2,"v":0.2},{"c":"RI","s":2012,"m":3,"v":0.5},{"c":"RI","s":2012,"m":4,"v":0.95},{"c":"RI","s":2012,"m":5,"v":0.75},{"c":"RI","s":2012,"m":6,"v":0.2},{"c":"RI","s":2012,"m":7,"v":0.05},{"c":"RI","s":2012,"m":12,"v":0.05},

{"c":"SP","s":2001,"m":1,"v":0.05},{"c":"SP","s":2001,"m":2,"v":0.08},{"c":"SP","s":2001,"m":3,"v":0.12},{"c":"SP","s":2001,"m":4,"v":0.15},{"c":"SP","s":2001,"m":5,"v":0.1},{"c":"SP","s":2001,"m":6,"v":0.03},{"c":"SP","s":2001,"m":12,"v":0.02},
{"c":"SP","s":2002,"m":1,"v":0.02},{"c":"SP","s":2002,"m":12,"v":0.02},
{"c":"SP","s":2003,"m":1,"v":0.02},{"c":"SP","s":2003,"m":12,"v":0.02},
{"c":"SP","s":2004,"m":1,"v":0.02},{"c":"SP","s":2004,"m":12,"v":0.02},
{"c":"SP","s":2005,"m":1,"v":0.02},{"c":"SP","s":2005,"m":12,"v":0.02},
{"c":"SP","s":2006,"m":1,"v":0.02},{"c":"SP","s":2006,"m":12,"v":0.02},
{"c":"SP","s":2007,"m":1,"v":0.02},{"c":"SP","s":2007,"m":12,"v":0.02},
{"c":"SP","s":2008,"m":1,"v":0.02},{"c":"SP","s":2008,"m":12,"v":0.02},
{"c":"SP","s":2009,"m":1,"v":0.02},{"c":"SP","s":2009,"m":12,"v":0.02},
{"c":"SP","s":2010,"m":1,"v":0.05},{"c":"SP","s":2010,"m":2,"v":0.1},{"c":"SP","s":2010,"m":3,"v":0.2},{"c":"SP","s":2010,"m":4,"v":0.22},{"c":"SP","s":2010,"m":5,"v":0.15},{"c":"SP","s":2010,"m":6,"v":0.04},{"c":"SP","s":2010,"m":12,"v":0.02},
{"c":"SP","s":2011,"m":1,"v":0.02},{"c":"SP","s":2011,"m":12,"v":0.02},
{"c":"SP","s":2012,"m":1,"v":0.02},{"c":"SP","s":2012,"m":12,"v":0.02},

{"c":"CT","s":2001,"m":1,"v":0.02},{"c":"CT","s":2001,"m":12,"v":0.02},
{"c":"CT","s":2002,"m":1,"v":0.02},{"c":"CT","s":2002,"m":12,"v":0.02},
{"c":"CT","s":2003,"m":1,"v":0.02},{"c":"CT","s":2003,"m":12,"v":0.02},
{"c":"CT","s":2004,"m":1,"v":0.02},{"c":"CT","s":2004,"m":12,"v":0.02},
{"c":"CT","s":2005,"m":1,"v":0.02},{"c":"CT","s":2005,"m":12,"v":0.02},
{"c":"CT","s":2006,"m":1,"v":0.02},{"c":"CT","s":2006,"m":12,"v":0.02},
{"c":"CT","s":2007,"m":1,"v":0.02},{"c":"CT","s":2007,"m":12,"v":0.02},
{"c":"CT","s":2008,"m":1,"v":0.02},{"c":"CT","s":2008,"m":12,"v":0.02},
{"c":"CT","s":2009,"m":1,"v":0.02},{"c":"CT","s":2009,"m":12,"v":0.02},
{"c":"CT","s":2010,"m":1,"v":0.02},{"c":"CT","s":2010,"m":12,"v":0.02},
{"c":"CT","s":2011,"m":1,"v":0.02},{"c":"CT","s":2011,"m":12,"v":0.02},
{"c":"CT","s":2012,"m":1,"v":0.02},{"c":"CT","s":2012,"m":12,"v":0.02},

{"c":"PA","s":2001,"m":1,"v":0.02},{"c":"PA","s":2001,"m":12,"v":0.02},
{"c":"PA","s":2002,"m":1,"v":0.02},{"c":"PA","s":2002,"m":12,"v":0.02},
{"c":"PA","s":2003,"m":1,"v":0.02},{"c":"PA","s":2003,"m":12,"v":0.02},
{"c":"PA","s":2004,"m":1,"v":0.02},{"c":"PA","s":2004,"m":12,"v":0.02},
{"c":"PA","s":2005,"m":1,"v":0.02},{"c":"PA","s":2005,"m":12,"v":0.02},
{"c":"PA","s":2006,"m":1,"v":0.02},{"c":"PA","s":2006,"m":12,"v":0.02},
{"c":"PA","s":2007,"m":1,"v":0.02},{"c":"PA","s":2007,"m":12,"v":0.02},
{"c":"PA","s":2008,"m":1,"v":0.02},{"c":"PA","s":2008,"m":12,"v":0.02},
{"c":"PA","s":2009,"m":1,"v":0.02},{"c":"PA","s":2009,"m":12,"v":0.02},
{"c":"PA","s":2010,"m":1,"v":0.02},{"c":"PA","s":2010,"m":12,"v":0.02},
{"c":"PA","s":2011,"m":1,"v":0.02},{"c":"PA","s":2011,"m":12,"v":0.02},
{"c":"PA","s":2012,"m":1,"v":0.02},{"c":"PA","s":2012,"m":12,"v":0.02}
]},
"data":{"name":"d"},
"concat":[
{"width":232,"height":155.5,"title":{"text":"Manaus","offset":-19.2},
 "layer":[
  {"transform":[{"filter":"datum.c=='MA'"}],"mark":{"type":"line"},
   "encoding":{
    "x":{"field":"m","type":"quantitative","scale":{"domain":[1,12],"range":[46.5,192.5]},"axis":{"offset":-19.7,"values":[1,3,5,7,9,11],"tickCount":6,"labelOverlap":false,"labelExpr":"['Jan','Feb','Mar','Apr','May','Jun','Jul','Aug','Sep','Oct','Nov','Dec'][datum.value-1]","title":null}},
    "y":{"field":"v","type":"quantitative","scale":{"domain":[0,9],"nice":false,"range":[135.8,28.5]},"axis":{"offset":-46.5,"values":[0,1,2,3,4,5,6,7,8,9],"tickCount":10,"labelOverlap":false,"title":["Dengue infections","(per 1000 inhabitants)"]}},
    "color":{"field":"s","type":"nominal","scale":{"domain":[2001,2002,2003,2004,2005,2006,2007,2008,2009,2010,2011,2012],"range":["#3D6DB5","#C0504D","#9BBB59","#7E5FA3","#4BACC6","#F08A2C","#5A8FD8","#D96C69","#A8CC6A","#A38CC9","#35B5D6","#F9A045"]},"legend":{"legendX":197.8,"legendY":27}}}},
  {"data":{"values":[{}]},"mark":{"type":"rect","filled":false,"stroke":"#8c8c8c","strokeWidth":1.5},"encoding":{"x":{"datum":6.37},"x2":{"datum":7.42},"y":{"datum":0},"y2":{"datum":9}}}
 ]},
{"width":234,"height":155.5,"title":{"text":"Fortaleza","offset":-19.2},
 "layer":[
  {"transform":[{"filter":"datum.c=='FO'"}],"mark":{"type":"line"},
   "encoding":{
    "x":{"field":"m","type":"quantitative","scale":{"domain":[1,12],"range":[48.5,194.5]},"axis":{"offset":-19.7,"values":[1,3,5,7,9,11],"tickCount":6,"labelOverlap":false,"labelExpr":"['Jan','Feb','Mar','Apr','May','Jun','Jul','Aug','Sep','Oct','Nov','Dec'][datum.value-1]","title":null}},
    "y":{"field":"v","type":"quantitative","scale":{"domain":[0,9],"nice":false,"range":[135.8,28.5]},"axis":{"offset":-48.5,"values":[0,1,2,3,4,5,6,7,8,9],"tickCount":10,"labelOverlap":false,"title":["Dengue infections","(per 1000 inhabitants)"]}},
    "color":{"field":"s","type":"nominal","scale":{"domain":[2001,2002,2003,2004,2005,2006,2007,2008,2009,2010,2011,2012],"range":["#3D6DB5","#C0504D","#9BBB59","#7E5FA3","#4BACC6","#F08A2C","#5A8FD8","#D96C69","#A8CC6A","#A38CC9","#35B5D6","#F9A045"]},"legend":{"legendX":199.8,"legendY":27}}}},
  {"data":{"values":[{}]},"mark":{"type":"rect","filled":false,"stroke":"#8c8c8c","strokeWidth":1.5},"encoding":{"x":{"datum":6.37},"x2":{"datum":7.42},"y":{"datum":0},"y2":{"datum":9}}}
 ]},
{"width":233,"height":155.5,"title":{"text":"Natal","offset":-19.2},
 "layer":[
  {"transform":[{"filter":"datum.c=='NA'"}],"mark":{"type":"line"},
   "encoding":{
    "x":{"field":"m","type":"quantitative","scale":{"domain":[1,12],"range":[48.5,194.5]},"axis":{"offset":-19.7,"values":[1,3,5,7,9,11],"tickCount":6,"labelOverlap":false,"labelExpr":"['Jan','Feb','Mar','Apr','May','Jun','Jul','Aug','Sep','Oct','Nov','Dec'][datum.value-1]","title":null}},
    "y":{"field":"v","type":"quantitative","scale":{"domain":[0,9],"nice":false,"range":[135.8,28.5]},"axis":{"offset":-48.5,"values":[0,1,2,3,4,5,6,7,8,9],"tickCount":10,"labelOverlap":false,"title":["Dengue infections","(per 1000 inhabitants)"]}},
    "color":{"field":"s","type":"nominal","scale":{"domain":[2001,2002,2003,2004,2005,2006,2007,2008,2009,2010,2011,2012],"range":["#3D6DB5","#C0504D","#9BBB59","#7E5FA3","#4BACC6","#F08A2C","#5A8FD8","#D96C69","#A8CC6A","#A38CC9","#35B5D6","#F9A045"]},"legend":{"legendX":199.8,"legendY":27}}}},
  {"data":{"values":[{}]},"mark":{"type":"rect","filled":false,"stroke":"#8c8c8c","strokeWidth":1.5},"encoding":{"x":{"datum":6.37},"x2":{"datum":7.42},"y":{"datum":0},"y2":{"datum":9}}}
 ]},
{"width":232,"height":157,"title":{"text":"Recife","offset":-20.2},
 "layer":[
  {"transform":[{"filter":"datum.c=='RE'"}],"mark":{"type":"line"},
   "encoding":{
    "x":{"field":"m","type":"quantitative","scale":{"domain":[1,12],"range":[46.5,192.5]},"axis":{"offset":-18.3,"values":[1,3,5,7,9,11],"tickCount":6,"labelOverlap":false,"labelExpr":"['Jan','Feb','Mar','Apr','May','Jun','Jul','Aug','Sep','Oct','Nov','Dec'][datum.value-1]","title":null}},
    "y":{"field":"v","type":"quantitative","scale":{"domain":[0,9],"nice":false,"range":[138.7,31.3]},"axis":{"offset":-46.5,"values":[0,1,2,3,4,5,6,7,8,9],"tickCount":10,"labelOverlap":false,"title":["Dengue infections","( per 1000 inhabitants)"]}},
    "color":{"field":"s","type":"nominal","scale":{"domain":[2001,2002,2003,2004,2005,2006,2007,2008,2009,2010,2011,2012],"range":["#3D6DB5","#C0504D","#9BBB59","#7E5FA3","#4BACC6","#F08A2C","#5A8FD8","#D96C69","#A8CC6A","#A38CC9","#35B5D6","#F9A045"]},"legend":{"legendX":197.8,"legendY":28.8}}}},
  {"data":{"values":[{}]},"mark":{"type":"rect","filled":false,"stroke":"#8c8c8c","strokeWidth":1.5},"encoding":{"x":{"datum":6.37},"x2":{"datum":7.42},"y":{"datum":0},"y2":{"datum":9}}}
 ]},
{"width":234,"height":157,"title":{"text":"Salvador","offset":-20.2},
 "layer":[
  {"transform":[{"filter":"datum.c=='SA'"}],"mark":{"type":"line"},
   "encoding":{
    "x":{"field":"m","type":"quantitative","scale":{"domain":[1,12],"range":[48.5,194.5]},"axis":{"offset":-18.3,"values":[1,3,5,7,9,11],"tickCount":6,"labelOverlap":false,"labelExpr":"['Jan','Feb','Mar','Apr','May','Jun','Jul','Aug','Sep','Oct','Nov','Dec'][datum.value-1]","title":null}},
    "y":{"field":"v","type":"quantitative","scale":{"domain":[0,9],"nice":false,"range":[138.7,31.3]},"axis":{"offset":-48.5,"values":[0,1,2,3,4,5,6,7,8,9],"tickCount":10,"labelOverlap":false,"title":["Dengue infections","(per 1000 inhabitants)"]}},
    "color":{"field":"s","type":"nominal","scale":{"domain":[2001,2002,2003,2004,2005,2006,2007,2008,2009,2010,2011,2012],"range":["#3D6DB5","#C0504D","#9BBB59","#7E5FA3","#4BACC6","#F08A2C","#5A8FD8","#D96C69","#A8CC6A","#A38CC9","#35B5D6","#F9A045"]},"legend":{"legendX":199.8,"legendY":28.8}}}},
  {"data":{"values":[{}]},"mark":{"type":"rect","filled":false,"stroke":"#8c8c8c","strokeWidth":1.5},"encoding":{"x":{"datum":6.37},"x2":{"datum":7.42},"y":{"datum":0},"y2":{"datum":9}}}
 ]},
{"width":233,"height":157,"title":{"text":"Brasília","offset":-20.2},
 "layer":[
  {"transform":[{"filter":"datum.c=='BR'"}],"mark":{"type":"line"},
   "encoding":{
    "x":{"field":"m","type":"quantitative","scale":{"domain":[1,12],"range":[48.5,194.5]},"axis":{"offset":-18.3,"values":[1,3,5,7,9,11],"tickCount":6,"labelOverlap":false,"labelExpr":"['Jan','Feb','Mar','Apr','May','Jun','Jul','Aug','Sep','Oct','Nov','Dec'][datum.value-1]","title":null}},
    "y":{"field":"v","type":"quantitative","scale":{"domain":[0,9],"nice":false,"range":[138.7,31.3]},"axis":{"offset":-48.5,"values":[0,1,2,3,4,5,6,7,8,9],"tickCount":10,"labelOverlap":false,"title":["Dengue infections","(per 1000 inhabitants)"]}},
    "color":{"field":"s","type":"nominal","scale":{"domain":[2001,2002,2003,2004,2005,2006,2007,2008,2009,2010,2011,2012],"range":["#3D6DB5","#C0504D","#9BBB59","#7E5FA3","#4BACC6","#F08A2C","#5A8FD8","#D96C69","#A8CC6A","#A38CC9","#35B5D6","#F9A045"]},"legend":{"legendX":199.8,"legendY":28.8}}}},
  {"data":{"values":[{}]},"mark":{"type":"rect","filled":false,"stroke":"#8c8c8c","strokeWidth":1.5},"encoding":{"x":{"datum":6.37},"x2":{"datum":7.42},"y":{"datum":0},"y2":{"datum":9}}}
 ]},
{"width":232,"height":157,"title":{"text":"Cuiabá","offset":-21},
 "layer":[
  {"transform":[{"filter":"datum.c=='CU'"}],"mark":{"type":"line"},
   "encoding":{
    "x":{"field":"m","type":"quantitative","scale":{"domain":[1,12],"range":[46.5,192.5]},"axis":{"offset":-17.3,"values":[1,3,5,7,9,11],"tickCount":6,"labelOverlap":false,"labelExpr":"['Jan','Feb','Mar','Apr','May','Jun','Jul','Aug','Sep','Oct','Nov','Dec'][datum.value-1]","title":null}},
    "y":{"field":"v","type":"quantitative","scale":{"domain":[0,9],"nice":false,"range":[139.7,31.3]},"axis":{"offset":-46.5,"values":[0,1,2,3,4,5,6,7,8,9],"tickCount":10,"labelOverlap":false,"title":["Dengue infections","(per 1000 inhabitants)"]}},
    "color":{"field":"s","type":"nominal","scale":{"domain":[2001,2002,2003,2004,2005,2006,2007,2008,2009,2010,2011,2012],"range":["#3D6DB5","#C0504D","#9BBB59","#7E5FA3","#4BACC6","#F08A2C","#5A8FD8","#D96C69","#A8CC6A","#A38CC9","#35B5D6","#F9A045"]},"legend":{"legendX":197.8,"legendY":29.5}}}},
  {"data":{"values":[{}]},"mark":{"type":"rect","filled":false,"stroke":"#8c8c8c","strokeWidth":1.5},"encoding":{"x":{"datum":6.37},"x2":{"datum":7.42},"y":{"datum":0},"y2":{"datum":9}}}
 ]},
{"width":234,"height":157,"title":{"text":"Belo Horizonte","offset":-21},
 "layer":[
  {"transform":[{"filter":"datum.c=='BH'"}],"mark":{"type":"line","clip":true},
   "encoding":{
    "x":{"field":"m","type":"quantitative","scale":{"domain":[1,12],"range":[48.5,194.5]},"axis":{"offset":-17.3,"values":[1,3,5,7,9,11],"tickCount":6,"labelOverlap":false,"labelExpr":"['Jan','Feb','Mar','Apr','May','Jun','Jul','Aug','Sep','Oct','Nov','Dec'][datum.value-1]","title":null}},
    "y":{"field":"v","type":"quantitative","scale":{"domain":[0,9],"nice":false,"range":[139.7,31.3]},"axis":{"offset":-48.5,"values":[0,1,2,3,4,5,6,7,8,9],"tickCount":10,"labelOverlap":false,"title":["Dengue infections","(per 1000 inhabitants)"]}},
    "color":{"field":"s","type":"nominal","scale":{"domain":[2001,2002,2003,2004,2005,2006,2007,2008,2009,2010,2011,2012,2013,2014],"range":["#3D6DB5","#C8352B","#9BBB59","#7E5FA3","#4BACC6","#F79646","#5B9BD5","#E8A09E","#9BBB59","#7B4FA0","#4BB5C6","#FAC090","#B4C7E7","#FF4A1C"]},"legend":{"legendX":202,"legendY":26.2,"rowPadding":0.7}}}},
  {"data":{"values":[{}]},"mark":{"type":"rect","fill":"white","clip":true},"encoding":{"x":{"datum":1.5},"x2":{"datum":5.5},"y":{"datum":9.06},"y2":{"datum":13}}},
  {"data":{"values":[{}]},"mark":{"type":"rect","filled":false,"stroke":"#8c8c8c","strokeWidth":1.5},"encoding":{"x":{"datum":6.37},"x2":{"datum":7.42},"y":{"datum":0},"y2":{"datum":9}}}
 ]},
{"width":233,"height":157,"title":{"text":"Rio de Janeiro","offset":-21},
 "layer":[
  {"transform":[{"filter":"datum.c=='RI'"}],"mark":{"type":"line"},
   "encoding":{
    "x":{"field":"m","type":"quantitative","scale":{"domain":[1,12],"range":[48.5,194.5]},"axis":{"offset":-17.3,"values":[1,3,5,7,9,11],"tickCount":6,"labelOverlap":false,"labelExpr":"['Jan','Feb','Mar','Apr','May','Jun','Jul','Aug','Sep','Oct','Nov','Dec'][datum.value-1]","title":null}},
    "y":{"field":"v","type":"quantitative","scale":{"domain":[0,9],"nice":false,"range":[139.7,31.3]},"axis":{"offset":-48.5,"values":[0,1,2,3,4,5,6,7,8,9],"tickCount":10,"labelOverlap":false,"title":["Dengue infections","(per 1000 inhabitants)"]}},
    "color":{"field":"s","type":"nominal","scale":{"domain":[2001,2002,2003,2004,2005,2006,2007,2008,2009,2010,2011,2012],"range":["#3D6DB5","#C0504D","#9BBB59","#7E5FA3","#4BACC6","#F08A2C","#5A8FD8","#D96C69","#A8CC6A","#A38CC9","#35B5D6","#F9A045"]},"legend":{"legendX":199.8,"legendY":29.5}}}},
  {"data":{"values":[{}]},"mark":{"type":"rect","filled":false,"stroke":"#8c8c8c","strokeWidth":1.5},"encoding":{"x":{"datum":6.37},"x2":{"datum":7.42},"y":{"datum":0},"y2":{"datum":9}}}
 ]},
{"width":232,"height":158.5,"title":{"text":"São Paulo","offset":-22},
 "layer":[
  {"transform":[{"filter":"datum.c=='SP'"}],"mark":{"type":"line"},
   "encoding":{
    "x":{"field":"m","type":"quantitative","scale":{"domain":[1,12],"range":[46.5,192.5]},"axis":{"offset":-18.8,"values":[1,3,5,7,9,11],"tickCount":6,"labelOverlap":false,"labelExpr":"['Jan','Feb','Mar','Apr','May','Jun','Jul','Aug','Sep','Oct','Nov','Dec'][datum.value-1]","title":null}},
    "y":{"field":"v","type":"quantitative","scale":{"domain":[0,9],"nice":false,"range":[139.7,33]},"axis":{"offset":-46.5,"values":[0,1,2,3,4,5,6,7,8,9],"tickCount":10,"labelOverlap":false,"title":["Dengue infections","(per 1000 inhabitants)"]}},
    "color":{"field":"s","type":"nominal","scale":{"domain":[2001,2002,2003,2004,2005,2006,2007,2008,2009,2010,2011,2012],"range":["#3D6DB5","#C0504D","#9BBB59","#7E5FA3","#4BACC6","#F08A2C","#5A8FD8","#D96C69","#A8CC6A","#A38CC9","#35B5D6","#F9A045"]},"legend":{"legendX":197.8,"legendY":30.2}}}},
  {"data":{"values":[{}]},"mark":{"type":"rect","filled":false,"stroke":"#8c8c8c","strokeWidth":1.5},"encoding":{"x":{"datum":6.37},"x2":{"datum":7.42},"y":{"datum":0},"y2":{"datum":9}}}
 ]},
{"width":234,"height":158.5,"title":{"text":"Curitiba","offset":-22},
 "layer":[
  {"transform":[{"filter":"datum.c=='CT'"}],"mark":{"type":"line"},
   "encoding":{
    "x":{"field":"m","type":"quantitative","scale":{"domain":[1,12],"range":[48.5,194.5]},"axis":{"offset":-18.8,"values":[1,3,5,7,9,11],"tickCount":6,"labelOverlap":false,"labelExpr":"['Jan','Feb','Mar','Apr','May','Jun','Jul','Aug','Sep','Oct','Nov','Dec'][datum.value-1]","title":null}},
    "y":{"field":"v","type":"quantitative","scale":{"domain":[0,9],"nice":false,"range":[139.7,33]},"axis":{"offset":-48.5,"values":[0,1,2,3,4,5,6,7,8,9],"tickCount":10,"labelOverlap":false,"title":["Dengue infection","(per 1000 inhabitants)"]}},
    "color":{"field":"s","type":"nominal","scale":{"domain":[2001,2002,2003,2004,2005,2006,2007,2008,2009,2010,2011,2012],"range":["#3D6DB5","#C0504D","#9BBB59","#7E5FA3","#4BACC6","#F08A2C","#5A8FD8","#D96C69","#A8CC6A","#A38CC9","#35B5D6","#F9A045"]},"legend":{"legendX":199.8,"legendY":30.2}}}},
  {"data":{"values":[{}]},"mark":{"type":"rect","filled":false,"stroke":"#8c8c8c","strokeWidth":1.5},"encoding":{"x":{"datum":6.37},"x2":{"datum":7.42},"y":{"datum":0},"y2":{"datum":9}}}
 ]},
{"width":233,"height":158.5,"title":{"text":"Porto Alegre","offset":-22},
 "layer":[
  {"transform":[{"filter":"datum.c=='PA'"}],"mark":{"type":"line"},
   "encoding":{
    "x":{"field":"m","type":"quantitative","scale":{"domain":[1,12],"range":[48.5,194.5]},"axis":{"offset":-18.8,"values":[1,3,5,7,9,11],"tickCount":6,"labelOverlap":false,"labelExpr":"['Jan','Feb','Mar','Apr','May','Jun','Jul','Aug','Sep','Oct','Nov','Dec'][datum.value-1]","title":null}},
    "y":{"field":"v","type":"quantitative","scale":{"domain":[0,9],"nice":false,"range":[139.7,33]},"axis":{"offset":-48.5,"values":[0,1,2,3,4,5,6,7,8,9],"tickCount":10,"labelOverlap":false,"title":["Density infection","(per 1000 inhabitants)"]}},
    "color":{"field":"s","type":"nominal","scale":{"domain":[2001,2002,2003,2004,2005,2006,2007,2008,2009,2010,2011,2012],"range":["#3D6DB5","#C0504D","#9BBB59","#7E5FA3","#4BACC6","#F08A2C","#5A8FD8","#D96C69","#A8CC6A","#A38CC9","#35B5D6","#F9A045"]},"legend":{"legendX":199.8,"legendY":30.2}}}},
  {"data":{"values":[{}]},"mark":{"type":"rect","filled":false,"stroke":"#8c8c8c","strokeWidth":1.5},"encoding":{"x":{"datum":6.37},"x2":{"datum":7.42},"y":{"datum":0},"y2":{"datum":9}}}
 ]}
],
"resolve":{"scale":{"x":"independent","y":"independent","color":"independent"},"axis":{"x":"independent","y":"independent"},"legend":{"color":"independent"}},
"config":{
 "font":"Liberation Sans",
 "view":{"stroke":"#000000","strokeWidth":3},
 "line":{"strokeWidth":1.5},
 "axis":{"grid":false,"ticks":false,"domainColor":"#868686","domainWidth":1,"labelFont":"Liberation Sans","labelFontSize":10,"labelColor":"#262626","labelFlush":false,"labelOverlap":false,"titleFont":"Liberation Sans","titleFontSize":9,"titleFontWeight":"bold","titleColor":"#262626"},
 "axisX":{"labelPadding":3},
 "axisY":{"labelPadding":5,"titlePadding":14,"titleLineHeight":10},
 "legend":{"orient":"none","title":null,"labelFont":"Liberation Sans","labelFontSize":6.5,"labelColor":"#262626","symbolType":"M-3,0H3","symbolSize":18,"symbolStrokeWidth":1.5,"rowPadding":1.5,"labelOffset":6,"padding":0},
 "title":{"font":"Liberation Sans","fontSize":10,"fontWeight":"bold","color":"#1a1a1a","anchor":"middle","frame":"group","baseline":"middle"}
}
}
